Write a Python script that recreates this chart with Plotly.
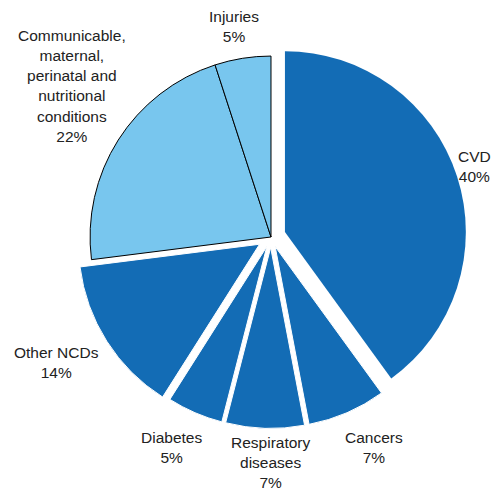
import plotly.graph_objects as go

# Share of deaths by cause (%), clockwise from 12 o'clock
causes = [
    "CVD",
    "Cancers",
    "Respiratory<br>diseases",
    "Diabetes",
    "Other NCDs",
    "Communicable,<br>maternal,<br>perinatal and<br>nutritional<br>conditions",
    "Injuries",
]
shares = [40, 7, 7, 5, 14, 22, 5]

dark = "#136cb5"
light = "#78c6ee"
clear = "rgba(0,0,0,0)"

# main pie: everything except CVD (CVD is drawn on its own, exploded)
main_colors = [clear, dark, dark, dark, dark, light, light]
main_line_colors = [clear, "white", "white", "white", "white", "black", "black"]
main_line_widths = [0, 1, 1, 1, 1, 1, 1]
main_pulls = [0, 0.058, 0.058, 0.058, 0.075, 0, 0]

cvd_colors = [dark, clear, clear, clear, clear, clear, clear]
cvd_line_widths = [0, 0, 0, 0, 0, 0, 0]

fig = go.Figure()
fig.add_trace(
    go.Pie(
        labels=causes,
        values=shares,
        sort=False,
        direction="clockwise",
        rotation=0,
        pull=main_pulls,
        marker=dict(colors=main_colors, line=dict(color=main_line_colors, width=main_line_widths)),
        textinfo="none",
        showlegend=False,
        domain=dict(x=[0.1412, 0.9433], y=[0.1268, 0.9289]),
        hoverinfo="label+percent",
    )
)
fig.add_trace(
    go.Pie(
        labels=causes,
        values=shares,
        sort=False,
        direction="clockwise",
        rotation=0,
        marker=dict(colors=cvd_colors, line=dict(color="white", width=cvd_line_widths)),
        textinfo="none",
        showlegend=False,
        domain=dict(x=[0.198, 0.944], y=[0.165, 0.911]),
        hoverinfo="label+percent",
    )
)

# label block positions (paper fraction)
label_x = [1.0, 0.755, 0.542, 0.338, 0.101, 0.132, 0.466]
label_y = [0.673, 0.093, 0.0, 0.093, 0.270, 0.839, 0.961]
label_xanchor = ["right", "center", "center", "center", "center", "center", "center"]
label_yanchor = ["middle", "middle", "bottom", "middle", "middle", "middle", "middle"]

for lab, val, x, y, xa, ya in zip(causes, shares, label_x, label_y, label_xanchor, label_yanchor):
    fig.add_annotation(
        x=x, y=y, xref="paper", yref="paper",
        text=f"{lab}<br>{val}%",
        showarrow=False,
        xanchor=xa, yanchor=ya, align="center",
        font=dict(family="Liberation Sans, Arial, sans-serif", size=15.5, color="#222222"),
    )

fig.update_layout(
    width=485,
    height=485,
    margin=dict(l=0, r=0, t=0, b=0),
    paper_bgcolor="white",
    plot_bgcolor="white",
)

fig.write_html("out.html")
